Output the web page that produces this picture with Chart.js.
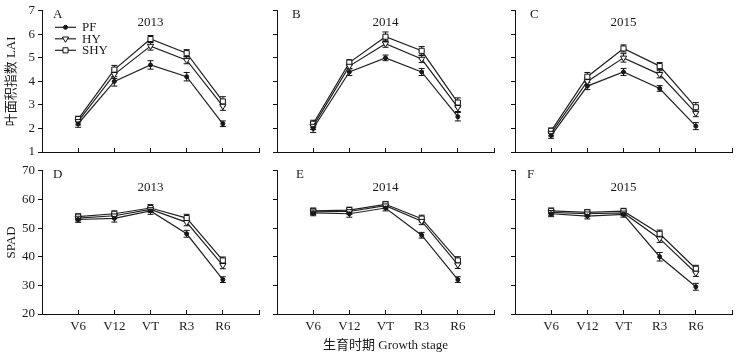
<!DOCTYPE html>
<html>
<head>
<meta charset="utf-8">
<script src="https://cdn.jsdelivr.net/npm/chart.js@4/dist/chart.umd.min.js"></script>
<style>
html,body{margin:0;padding:0;background:#fff;}
body{width:741px;height:357px;position:relative;overflow:hidden;}
canvas{position:absolute;}
</style>
</head>
<body>
<script>
// ---------- data ----------
const stages = ['V6', 'V12', 'VT', 'R3', 'R6'];
const treatments = ['PF', 'HY', 'SHY'];
const years = ['2013', '2014', '2015'];
const laiLetters = ['A', 'B', 'C'];
const spadLetters = ['D', 'E', 'F'];
const laiTitle = '叶面积指数 LAI';
const spadTitle = 'SPAD';
const xTitle = '生育时期 Growth stage';
const laiTicks = [1, 2, 3, 4, 5, 6, 7];
const spadTicks = [20, 30, 40, 50, 60, 70];

const lai2013PF  = [2.2, 4.0, 4.7, 4.2, 2.2];
const lai2013HY  = [2.3, 4.3, 5.5, 4.9, 2.95];
const lai2013SHY = [2.4, 4.5, 5.8, 5.2, 3.15];
const lai2014PF  = [2.0, 4.4, 5.0, 4.4, 2.5];
const lai2014HY  = [2.1, 4.65, 5.6, 4.95, 2.9];
const lai2014SHY = [2.2, 4.8, 5.9, 5.3, 3.1];
const lai2015PF  = [1.7, 3.8, 4.4, 3.7, 2.1];
const lai2015HY  = [1.8, 4.0, 5.0, 4.3, 2.65];
const lai2015SHY = [1.9, 4.2, 5.4, 4.65, 2.9];

const lai2013PFErr  = [0.15, 0.2, 0.18, 0.18, 0.12];
const lai2013HYErr  = [0.15, 0.18, 0.17, 0.15, 0.18];
const lai2013SHYErr = [0.12, 0.18, 0.15, 0.15, 0.2];
const lai2014PFErr  = [0.17, 0.15, 0.12, 0.15, 0.18];
const lai2014HYErr  = [0.15, 0.12, 0.15, 0.15, 0.18];
const lai2014SHYErr = [0.15, 0.12, 0.2, 0.18, 0.2];
const lai2015PFErr  = [0.12, 0.15, 0.15, 0.12, 0.15];
const lai2015HYErr  = [0.12, 0.15, 0.18, 0.15, 0.15];
const lai2015SHYErr = [0.12, 0.18, 0.15, 0.15, 0.2];

const spad2013PF  = [53.0, 53.4, 56.0, 48.0, 32.0];
const spad2013HY  = [53.5, 54.3, 56.5, 52.0, 37.0];
const spad2013SHY = [54.0, 55.0, 57.0, 53.5, 38.7];
const spad2014PF  = [55.3, 55.0, 57.0, 47.5, 32.0];
const spad2014HY  = [55.7, 55.8, 57.8, 52.4, 37.2];
const spad2014SHY = [56.0, 56.3, 58.3, 53.3, 38.7];
const spad2015PF  = [55.0, 54.2, 54.8, 40.0, 29.5];
const spad2015HY  = [55.5, 55.0, 55.3, 46.3, 34.3];
const spad2015SHY = [56.0, 55.5, 55.9, 48.0, 35.8];

const spad2013PFErr  = [1.0, 1.3, 1.2, 1.2, 1.0];
const spad2013HYErr  = [1.0, 1.0, 1.0, 1.2, 1.2];
const spad2013SHYErr = [1.0, 1.0, 1.2, 1.3, 1.2];
const spad2014PFErr  = [1.0, 1.2, 1.0, 1.0, 1.0];
const spad2014HYErr  = [1.0, 1.0, 1.0, 1.2, 1.3];
const spad2014SHYErr = [1.0, 1.0, 1.0, 1.2, 1.3];
const spad2015PFErr  = [1.0, 1.0, 1.0, 1.5, 1.2];
const spad2015HYErr  = [1.0, 1.0, 1.0, 1.3, 1.2];
const spad2015SHYErr = [1.0, 1.0, 1.0, 1.3, 1.2];

// ---------- panel assembly ----------
const laiValues = [
  [lai2013PF, lai2013HY, lai2013SHY],
  [lai2014PF, lai2014HY, lai2014SHY],
  [lai2015PF, lai2015HY, lai2015SHY]
];
const laiErrors = [
  [lai2013PFErr, lai2013HYErr, lai2013SHYErr],
  [lai2014PFErr, lai2014HYErr, lai2014SHYErr],
  [lai2015PFErr, lai2015HYErr, lai2015SHYErr]
];
const spadValues = [
  [spad2013PF, spad2013HY, spad2013SHY],
  [spad2014PF, spad2014HY, spad2014SHY],
  [spad2015PF, spad2015HY, spad2015SHY]
];
const spadErrors = [
  [spad2013PFErr, spad2013HYErr, spad2013SHYErr],
  [spad2014PFErr, spad2014HYErr, spad2014SHYErr],
  [spad2015PFErr, spad2015HYErr, spad2015SHYErr]
];

// ---------- layout & style ----------
const FONT = "'Liberation Serif','Noto Sans CJK SC',serif";
const INK = '#1a1a1a';
const colLeft = [42, 276.5, 514.5];
const plotW = 220;
const rightPad = 6;
const rows = [
  {canvasTop: 0, padTop: 9, plotH: 143, xH: 12},
  {canvasTop: 160, padTop: 10.7, plotH: 143.3, xH: 43}
];
const letterOffsetX = [[11, 15, 15], [11, 19, 12]];
const yearOffsetY = [11.5, 16.5];
const markerStyles = [
  {pointStyle: 'circle', radius: 2, rotation: 0, fill: '#1a1a1a'},
  {pointStyle: 'triangle', radius: 3.6, rotation: 180, fill: '#ffffff'},
  {pointStyle: 'rect', radius: 3.6, rotation: 0, fill: '#ffffff'}
];

function makePanel(row, col) {
  const isLai = row === 0;
  const values = isLai ? laiValues[col] : spadValues[col];
  const errors = isLai ? laiErrors[col] : spadErrors[col];
  const yt = isLai ? laiTicks : spadTicks;
  const letter = isLai ? laiLetters[col] : spadLetters[col];
  const year = years[col];
  const R = rows[row];
  const canvasLeft = col === 0 ? 0 : colLeft[col] - 10;
  const yW = colLeft[col] - canvasLeft;
  const W = Math.round(yW + plotW + rightPad);
  const H = Math.round(R.padTop + R.plotH + R.xH);

  const cv = document.createElement('canvas');
  cv.width = W; cv.height = H;
  cv.style.left = canvasLeft + 'px';
  cv.style.top = R.canvasTop + 'px';
  cv.style.width = W + 'px'; cv.style.height = H + 'px';
  document.body.appendChild(cv);

  const datasets = treatments.map((t, k) => ({
    label: t,
    data: stages.map((s, i) => ({x: i + 1, y: values[k][i]})),
    borderColor: '#222',
    borderWidth: 1.2,
    tension: 0,
    pointStyle: markerStyles[k].pointStyle,
    pointRadius: markerStyles[k].radius,
    pointRotation: markerStyles[k].rotation,
    pointBackgroundColor: markerStyles[k].fill,
    pointBorderColor: '#111',
    pointBorderWidth: 1
  }));

  const errorBars = {
    id: 'errorBars',
    beforeDatasetsDraw(chart) {
      const ctx = chart.ctx;
      const ys = chart.scales.y;
      ctx.save();
      ctx.strokeStyle = '#111';
      ctx.lineWidth = 1;
      chart.data.datasets.forEach((ds, k) => {
        const meta = chart.getDatasetMeta(k);
        ds.data.forEach((p, i) => {
          const e = errors[k][i];
          const x = meta.data[i].x;
          const y1 = ys.getPixelForValue(p.y + e);
          const y2 = ys.getPixelForValue(p.y - e);
          ctx.beginPath();
          ctx.moveTo(x, y1); ctx.lineTo(x, y2);
          ctx.moveTo(x - 3, y1); ctx.lineTo(x + 3, y1);
          ctx.moveTo(x - 3, y2); ctx.lineTo(x + 3, y2);
          ctx.stroke();
        });
      });
      ctx.restore();
    }
  };

  const panelText = {
    id: 'panelText',
    afterDraw(chart) {
      const ctx = chart.ctx;
      const a = chart.chartArea;
      ctx.save();
      ctx.fillStyle = INK;
      ctx.font = '13px ' + FONT;
      ctx.textBaseline = 'middle';
      ctx.textAlign = 'left';
      ctx.fillText(letter, a.left + letterOffsetX[row][col], a.top + 4);
      ctx.textAlign = 'center';
      ctx.fillText(year, (a.left + a.right) / 2, a.top + yearOffsetY[row]);
      if (row === 0 && col === 0) {
        const lx = a.left + 13;
        const ly = [a.top + 16.5, a.top + 28, a.top + 39.5];
        treatments.forEach((t, k) => {
          ctx.strokeStyle = '#222';
          ctx.lineWidth = 1.2;
          ctx.beginPath();
          ctx.moveTo(lx, ly[k]); ctx.lineTo(lx + 21, ly[k]);
          ctx.stroke();
          ctx.strokeStyle = '#111';
          ctx.lineWidth = 1;
          ctx.fillStyle = markerStyles[k].fill;
          Chart.helpers.drawPoint(ctx, {
            pointStyle: markerStyles[k].pointStyle,
            rotation: markerStyles[k].rotation,
            radius: markerStyles[k].radius,
            borderWidth: 1
          }, lx + 10.5, ly[k]);
          ctx.fillStyle = INK;
          ctx.textAlign = 'left';
          ctx.fillText(t, lx + 27, ly[k] + 0.5);
        });
      }
      ctx.restore();
    }
  };

  new Chart(cv, {
    type: 'line',
    data: {datasets},
    options: {
      responsive: false,
      animation: false,
      devicePixelRatio: 1,
      events: [],
      layout: {padding: {top: R.padTop, right: rightPad, left: 0, bottom: 0}},
      plugins: {legend: {display: false}, tooltip: {enabled: false}},
      scales: {
        x: {
          type: 'linear', min: 0, max: 6,
          afterFit: s => { s.height = R.xH; },
          grid: {drawOnChartArea: false, tickLength: -4, color: '#111', tickWidth: 1},
          border: {color: '#111', width: 1},
          ticks: {
            stepSize: 1, autoSkip: false, maxRotation: 0, padding: 9,
            color: INK, font: {family: FONT, size: 13},
            callback: v => (row === 1 ? (stages[v - 1] || '') : '')
          },
          title: {
            display: row === 1 && col === 1, text: xTitle, color: INK,
            font: {family: FONT, size: 13}, padding: {top: 2, bottom: 4}
          }
        },
        y: {
          min: yt[0], max: yt[yt.length - 1],
          afterFit: s => { s.width = yW; },
          afterBuildTicks: s => { s.ticks = yt.map(v => ({value: v})); },
          grid: {drawOnChartArea: false, tickLength: 4, color: '#111', tickWidth: 1},
          border: {color: '#111', width: 1},
          ticks: {
            padding: 3, color: INK, font: {family: FONT, size: 13},
            callback: v => (col === 0 ? String(v) : '')
          },
          title: {
            display: col === 0, text: isLai ? laiTitle : spadTitle, color: INK,
            font: {family: FONT, size: 13}, padding: {top: 4, bottom: 2}
          }
        }
      }
    },
    plugins: [errorBars, panelText]
  });
}

for (let r = 0; r < 2; r++) for (let c = 0; c < 3; c++) makePanel(r, c);
</script>
</body>
</html>
